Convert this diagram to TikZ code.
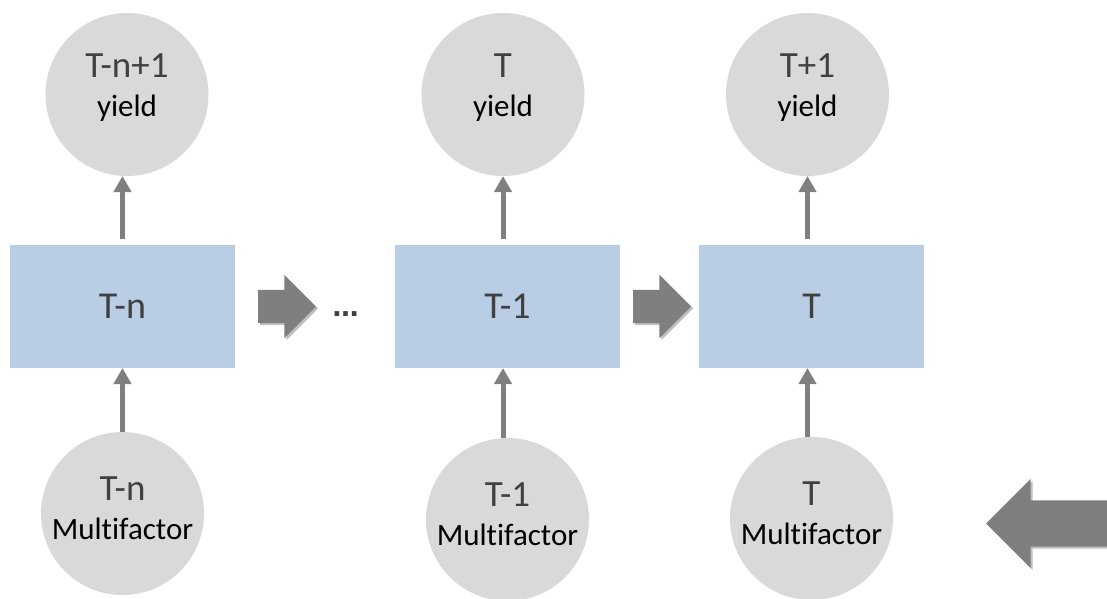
\documentclass[tikz,border=0pt]{standalone}
\usepackage{fontspec}
\setmainfont{Carlito}[Ligatures=NoCommon]
\newfontfamily\dotsfont{DejaVu Sans}
\usetikzlibrary{arrows.meta, positioning, shapes.arrows, shadows}
\definecolor{grayA}{HTML}{7F7F7F}
\definecolor{grayB}{HTML}{D9D9D9}
\definecolor{grayC}{HTML}{404040}
\definecolor{blueB}{HTML}{B9CDE5}
\newcommand{\steplbl}[1]{{\color{grayC}\fontsize{37}{39}\selectfont #1}}
\tikzset{
  valnode/.style={
    circle, fill=grayB, minimum size=163pt, inner sep=0pt,
    outer sep=0pt, align=center, font=\fontsize{31}{39}\selectfont
  },
  stepbox/.style={
    rectangle, fill=blueB, minimum width=225pt, minimum height=123pt,
    inner sep=0pt, outer sep=0pt, font=\fontsize{38}{44}\selectfont,
    text=grayC
  },
  uparrow/.style={-{Triangle[length=16pt, width=17pt]}, line width=5pt, draw=grayA},
  flow/.style={
    single arrow, fill=grayA, inner sep=16.5pt, outer sep=0pt,
    single arrow head extend=15pt, minimum height=58pt,
    drop shadow={shadow xshift=2pt, shadow yshift=-2pt, opacity=0.25, fill=black}
  }
}

\begin{document}
\begin{tikzpicture}[x=1pt, y=-1pt]
  \useasboundingbox (0,0) rectangle (1107,598);
  \clip (0,0) rectangle (1107,598);

  % time steps
  \node[stepbox] (stepA) at (122.5,306.5) {T-n};
  \node[stepbox] (stepB) at (507.5,306.5) {T-1};
  \node[stepbox] (stepC) at (811.5,306.5) {T};

  % yields
  \node[valnode, text depth=18pt, above=69pt of stepA, xshift=4.5pt] (yieldA) {\steplbl{T-n+1}\\yield};
  \node[valnode, text depth=18pt, above=69pt of stepB, xshift=-4.5pt] (yieldB) {\steplbl{T}\\yield};
  \node[valnode, text depth=18pt, above=69pt of stepC, xshift=-4pt] (yieldC) {\steplbl{T+1}\\yield};

  % multifactor inputs
  \node[valnode, text depth=10pt, below=64pt of stepA] (factorA) {\steplbl{T-n}\\Multifactor};
  \node[valnode, text depth=10pt, below=70pt of stepB] (factorB) {\steplbl{T-1}\\Multifactor};
  \node[valnode, text depth=10pt, below=69pt of stepC] (factorC) {\steplbl{T}\\Multifactor};

  % flow between steps
  \node[flow, right=23pt of stepA] (flowA) {};
  \node[font=\dotsfont\bfseries\fontsize{26}{30}\selectfont, text=grayC] (dots) at (345.5,314) {…};
  \node[flow, right=13pt of stepB] (flowB) {};
  \node[flow, single arrow head extend=21.5pt, inner sep=23pt,
        minimum height=150pt, shape border rotate=180, anchor=tip] (back) at (986,523.5) {};

  \draw[uparrow, shorten <=6pt] (stepA.north) -- (stepA.north |- yieldA.south);
  \draw[uparrow, shorten <=6pt] (stepB.north -| yieldB.south) -- (yieldB.south);
  \draw[uparrow, shorten <=6pt] (stepC.north -| yieldC.south) -- (yieldC.south);

  \draw[uparrow] (factorA.north) -- (factorA.north |- stepA.south);
  \draw[uparrow] (factorB.north -| yieldB.south) -- (stepB.south -| yieldB.south);
  \draw[uparrow] (factorC.north -| yieldC.south) -- (stepC.south -| yieldC.south);
\end{tikzpicture}
\end{document}
